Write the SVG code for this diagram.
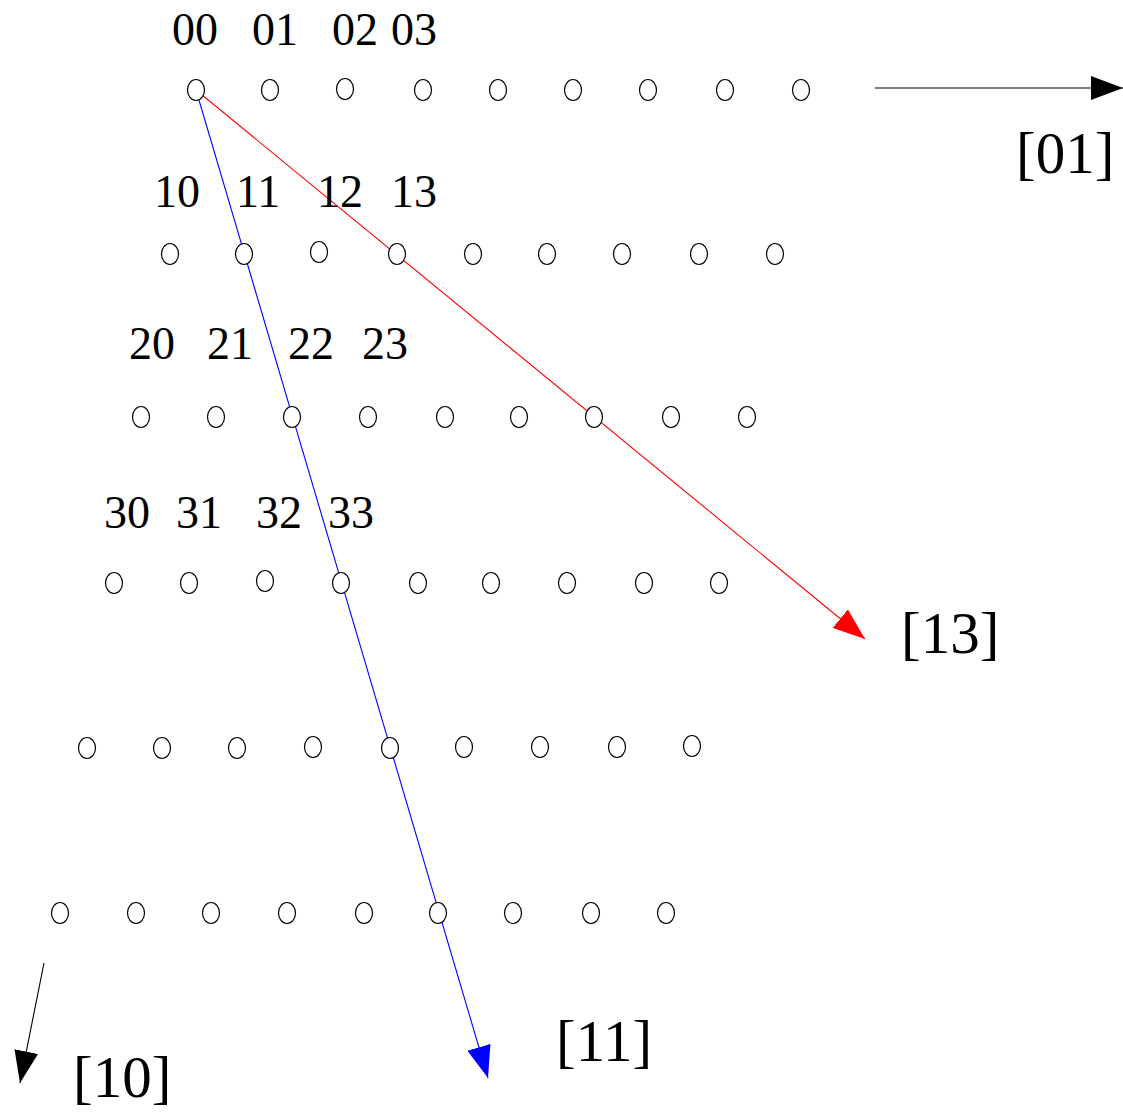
<svg xmlns="http://www.w3.org/2000/svg" width="1123" height="1112" viewBox="0 0 1123 1112">
<style>
.pt{fill:#fff;stroke:#000;stroke-width:1.2}
.lb{font-family:"Liberation Serif","Times New Roman",serif;font-size:46px;fill:#000}
.big{font-family:"Liberation Serif","Times New Roman",serif;font-size:59px;fill:#000}
</style>
<defs>
<marker id="ak" markerUnits="userSpaceOnUse" viewBox="0 0 32 24" refX="32" refY="12" markerWidth="32" markerHeight="24" orient="auto"><path d="M0,0 L32,12 L0,24 Z" fill="#000"/></marker>
<marker id="ar" markerUnits="userSpaceOnUse" viewBox="0 0 32 24" refX="32" refY="12" markerWidth="32" markerHeight="24" orient="auto"><path d="M0,0 L32,12 L0,24 Z" fill="#f00"/></marker>
<marker id="ab" markerUnits="userSpaceOnUse" viewBox="0 0 32 24" refX="32" refY="12" markerWidth="32" markerHeight="24" orient="auto"><path d="M0,0 L32,12 L0,24 Z" fill="#00f"/></marker>
</defs>
<g id="connectors" fill="none" stroke-width="1.1">
<line x1="875" y1="88" x2="1123" y2="88" stroke="#000" marker-end="url(#ak)"/>
<line x1="44" y1="963" x2="20" y2="1083" stroke="#000" marker-end="url(#ak)"/>
<line x1="196" y1="90" x2="865" y2="639" stroke="#f00" marker-end="url(#ar)"/>
<line x1="196" y1="90" x2="488" y2="1078" stroke="#00f" marker-end="url(#ab)"/>
</g>
<g id="row0">
<ellipse class="pt" cx="196" cy="90" rx="8.5" ry="10.5"/><ellipse class="pt" cx="270" cy="90" rx="8.5" ry="10.5"/><ellipse class="pt" cx="345" cy="89" rx="8.5" ry="10.5"/><ellipse class="pt" cx="423" cy="90" rx="8.5" ry="10.5"/><ellipse class="pt" cx="498" cy="90" rx="8.5" ry="10.5"/><ellipse class="pt" cx="573" cy="90" rx="8.5" ry="10.5"/><ellipse class="pt" cx="648" cy="90" rx="8.5" ry="10.5"/><ellipse class="pt" cx="725" cy="90" rx="8.5" ry="10.5"/><ellipse class="pt" cx="801" cy="90" rx="8.5" ry="10.5"/>
</g>
<g id="row1">
<ellipse class="pt" cx="170" cy="254" rx="8.5" ry="10.5"/><ellipse class="pt" cx="244" cy="254" rx="8.5" ry="10.5"/><ellipse class="pt" cx="319" cy="252" rx="8.5" ry="10.5"/><ellipse class="pt" cx="397" cy="254" rx="8.5" ry="10.5"/><ellipse class="pt" cx="473" cy="254" rx="8.5" ry="10.5"/><ellipse class="pt" cx="547" cy="254" rx="8.5" ry="10.5"/><ellipse class="pt" cx="622" cy="254" rx="8.5" ry="10.5"/><ellipse class="pt" cx="699" cy="254" rx="8.5" ry="10.5"/><ellipse class="pt" cx="775" cy="254" rx="8.5" ry="10.5"/>
</g>
<g id="row2">
<ellipse class="pt" cx="141" cy="417" rx="8.5" ry="10.5"/><ellipse class="pt" cx="216" cy="417" rx="8.5" ry="10.5"/><ellipse class="pt" cx="292" cy="417" rx="8.5" ry="10.5"/><ellipse class="pt" cx="368" cy="417" rx="8.5" ry="10.5"/><ellipse class="pt" cx="445" cy="417" rx="8.5" ry="10.5"/><ellipse class="pt" cx="519" cy="417" rx="8.5" ry="10.5"/><ellipse class="pt" cx="594" cy="417" rx="8.5" ry="10.5"/><ellipse class="pt" cx="671" cy="417" rx="8.5" ry="10.5"/><ellipse class="pt" cx="747" cy="417" rx="8.5" ry="10.5"/>
</g>
<g id="row3">
<ellipse class="pt" cx="114" cy="583" rx="8.5" ry="10.5"/><ellipse class="pt" cx="189" cy="583" rx="8.5" ry="10.5"/><ellipse class="pt" cx="265" cy="581" rx="8.5" ry="10.5"/><ellipse class="pt" cx="341" cy="583" rx="8.5" ry="10.5"/><ellipse class="pt" cx="418" cy="583" rx="8.5" ry="10.5"/><ellipse class="pt" cx="491" cy="583" rx="8.5" ry="10.5"/><ellipse class="pt" cx="567" cy="583" rx="8.5" ry="10.5"/><ellipse class="pt" cx="644" cy="583" rx="8.5" ry="10.5"/><ellipse class="pt" cx="719" cy="583" rx="8.5" ry="10.5"/>
</g>
<g id="row4">
<ellipse class="pt" cx="87" cy="748" rx="8.5" ry="10.5"/><ellipse class="pt" cx="162" cy="748" rx="8.5" ry="10.5"/><ellipse class="pt" cx="237" cy="748" rx="8.5" ry="10.5"/><ellipse class="pt" cx="313" cy="747" rx="8.5" ry="10.5"/><ellipse class="pt" cx="390" cy="748" rx="8.5" ry="10.5"/><ellipse class="pt" cx="464" cy="747" rx="8.5" ry="10.5"/><ellipse class="pt" cx="540" cy="747" rx="8.5" ry="10.5"/><ellipse class="pt" cx="617" cy="747" rx="8.5" ry="10.5"/><ellipse class="pt" cx="692" cy="746" rx="8.5" ry="10.5"/>
</g>
<g id="row5">
<ellipse class="pt" cx="60" cy="913" rx="8.5" ry="10.5"/><ellipse class="pt" cx="136" cy="913" rx="8.5" ry="10.5"/><ellipse class="pt" cx="211" cy="913" rx="8.5" ry="10.5"/><ellipse class="pt" cx="287" cy="913" rx="8.5" ry="10.5"/><ellipse class="pt" cx="364" cy="913" rx="8.5" ry="10.5"/><ellipse class="pt" cx="438" cy="913" rx="8.5" ry="10.5"/><ellipse class="pt" cx="513" cy="913" rx="8.5" ry="10.5"/><ellipse class="pt" cx="591" cy="913" rx="8.5" ry="10.5"/><ellipse class="pt" cx="666" cy="913" rx="8.5" ry="10.5"/>
</g>
<g id="labels">
<text class="lb" x="172" y="45">00</text><text class="lb" x="252" y="45">01</text><text class="lb" x="332" y="45">02</text><text class="lb" x="391" y="45">03</text>
<text class="lb" x="154" y="207">10</text><text class="lb" x="236" y="207">11</text><text class="lb" x="317" y="207">12</text><text class="lb" x="391" y="207">13</text>
<text class="lb" x="129" y="359">20</text><text class="lb" x="207" y="359">21</text><text class="lb" x="288" y="359">22</text><text class="lb" x="362" y="359">23</text>
<text class="lb" x="104" y="528">30</text><text class="lb" x="176" y="528">31</text><text class="lb" x="256" y="528">32</text><text class="lb" x="328" y="528">33</text>
</g>
<g id="axis-labels">
<text class="big" x="1016" y="173">[01]</text>
<text class="big" x="901" y="653">[13]</text>
<text class="big" x="556" y="1061">[11]</text>
<text class="big" x="73" y="1097">[10]</text>
</g>
</svg>
